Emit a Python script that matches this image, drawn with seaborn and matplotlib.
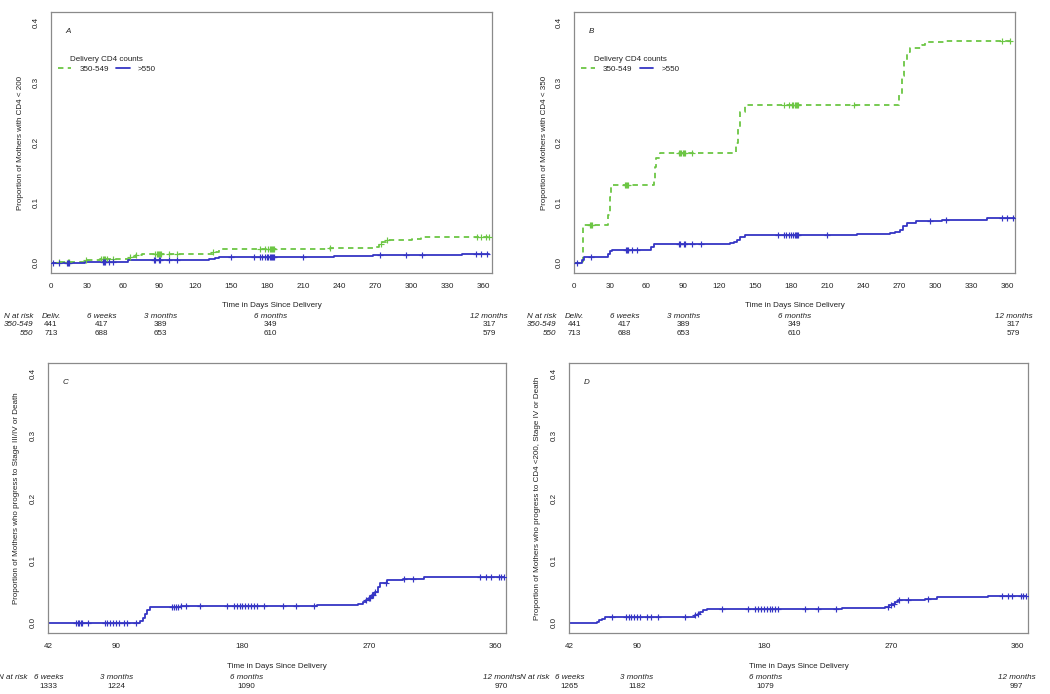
import numpy as np
import pandas as pd
import matplotlib
matplotlib.use("Agg")
import matplotlib.pyplot as plt
from matplotlib.lines import Line2D
import matplotlib.transforms as mtransforms
import seaborn as sns

# ---------------- data ----------------
# Panel A: CD4 < 200
a_mid_t = [0, 7, 29, 41, 66, 71, 76, 135, 140, 232, 270, 273, 276, 279, 301, 308, 365]
a_mid_v = [0, 0.002, 0.0044, 0.0066, 0.0104, 0.0126, 0.0148, 0.0185, 0.0225, 0.0247, 0.027, 0.031, 0.035, 0.0374, 0.040, 0.043, 0.043]
a_hi_t = [0, 28, 64, 132, 137, 140, 236, 268, 274, 342, 365]
a_hi_v = [0, 0.0016, 0.0044, 0.0065, 0.008, 0.0093, 0.011, 0.013, 0.0135, 0.0154, 0.0154]
a_mid_cens = [7, 14, 15, 29, 42, 43, 44, 45, 47, 52, 66, 71, 87, 88, 89, 90, 91, 92, 98, 105, 135,
              174, 178, 181, 182, 183, 184, 185, 186, 232, 275, 280, 355, 358, 362, 365]
a_hi_cens = [2, 7, 13, 14, 15, 43, 44, 45, 48, 52, 86, 87, 90, 91, 98, 105, 150, 169, 174, 176,
             178, 180, 181, 182, 183, 184, 185, 186, 210, 274, 296, 309, 354, 358, 363]

# Panel B: CD4 < 350
b_mid_t = [0, 7.5, 28, 29.5, 30.5, 66, 67, 68, 71, 134, 136, 138, 142, 270, 272, 274, 276, 279, 289, 291, 308, 366]
b_mid_v = [0, 0.063, 0.08, 0.11, 0.129, 0.14, 0.16, 0.175, 0.183, 0.2, 0.225, 0.25, 0.262, 0.28, 0.31, 0.335,
           0.35, 0.357, 0.362, 0.366, 0.369, 0.369]
b_hi_t = [0, 6, 8, 28, 29.6, 31.6, 64, 66.5, 129, 133, 135, 137.6, 141.8, 234.5, 262, 266, 270.6, 273, 276,
          284, 305, 342.6, 366]
b_hi_v = [0, 0.005, 0.01, 0.015, 0.02, 0.022, 0.027, 0.032, 0.033, 0.035, 0.039, 0.043, 0.046, 0.048, 0.05,
          0.052, 0.055, 0.062, 0.067, 0.07, 0.072, 0.075, 0.075]
b_mid_cens = [13, 14, 15, 42, 43, 44, 45, 87, 88, 89, 90, 91, 92, 98, 174, 178, 181, 182, 183, 184, 185,
              186, 232, 355, 362]
b_hi_cens = [2, 14, 43, 44, 45, 48, 52, 87, 88, 91, 92, 98, 105, 169, 174, 176, 178, 180, 182, 183, 184,
             185, 186, 210, 295, 309, 355, 359, 364]

# Panel C: Stage III/IV or death
c_t = [42, 107, 109.5, 111, 112, 114, 124, 136, 233, 259, 262, 266, 268, 270, 272, 274, 276, 278, 283, 294, 309, 366]
c_v = [0, 0.003, 0.008, 0.015, 0.02, 0.025, 0.0255, 0.027, 0.028, 0.029, 0.031, 0.033, 0.036, 0.04, 0.045,
       0.05, 0.057, 0.064, 0.069, 0.071, 0.073, 0.073]
c_cens = [62, 63, 64, 65, 66, 70, 82, 84, 86, 88, 90, 92, 96, 98, 104, 130, 131, 133, 134, 136, 140, 150,
          169, 174, 176, 178, 180, 182, 184, 186, 188, 190, 195, 209, 218, 231, 268, 270, 271, 272, 273,
          274, 282, 295, 301, 349, 353, 357, 362, 364, 366]

# Panel D: CD4 <200, Stage IV or death
d_t = [42, 61.5, 63, 65, 67.3, 129, 131, 133, 135, 137, 139.4, 230, 235, 266, 269, 271, 273, 275, 278, 294,
       302.5, 307, 339, 366]
d_v = [0, 0.002, 0.005, 0.007, 0.009, 0.01, 0.012, 0.015, 0.018, 0.02, 0.022, 0.023, 0.024, 0.026, 0.028,
       0.031, 0.034, 0.036, 0.037, 0.039, 0.041, 0.042, 0.043, 0.043]
d_cens = [72, 82, 84, 86, 88, 90, 92, 97, 100, 105, 124, 131, 133, 150, 169, 174, 176, 178, 180, 182, 184,
          186, 188, 190, 209, 218, 231, 268, 270, 272, 276, 282, 296, 349, 353, 356, 362, 364, 366]

# At-risk tables
ab_risk_labels = ["Deliv.", "6 weeks", "3 months", "6 months", "12 months"]
ab_risk_days = [0, 42, 91, 183, 365]
a_risk_mid = [441, 417, 389, 349, 317]
a_risk_hi = [713, 688, 653, 610, 579]
c_risk_labels = ["6 weeks", "3 months", "6 months", "12 months"]
c_risk_days = [42, 90.6, 183, 364]
c_risk_n = [1333, 1224, 1090, 970]
d_risk_days = [42, 90, 181, 359]
d_risk_n = [1265, 1182, 1079, 997]

groups = ["350-549", ">550"]
GREEN = "#6cc644"
BLUE = "#3535c4"
GREY = "#8a8a8a"
TXT = "#222222"

# ---------------- style ----------------
sns.set_style("white")
plt.rcParams["font.family"] = ["Liberation Sans", "DejaVu Sans"]
FS = 5.8
LW = 1.3

fig = plt.figure(figsize=(10.5, 6.94), dpi=100)
W, H = 1050, 694


def mkax(l, t, r, b):
    return fig.add_axes([l / W, 1 - b / H, (r - l) / W, (b - t) / H])


axA = mkax(51, 12, 492, 273)
axB = mkax(574.3, 12, 1015, 273)
axC = mkax(48.3, 362.7, 505.7, 633.3)
axD = mkax(569.3, 362.7, 1027.7, 633.3)


def step_val(t, v, c):
    t = np.asarray(t); v = np.asarray(v)
    idx = np.searchsorted(t, np.asarray(c), side="right") - 1
    return v[np.clip(idx, 0, len(v) - 1)]


def draw_curve(ax, t, v, cens, group, color, dashed):
    df = pd.DataFrame({"t": t, "v": v, "g": group})
    ls = (0, (3.0, 2.4)) if dashed else "-"
    sns.lineplot(data=df, x="t", y="v", ax=ax, color=color, estimator=None, sort=False,
                 drawstyle="steps-post", linewidth=LW, linestyle=ls, legend=False)
    cdf = pd.DataFrame({"t": cens, "v": step_val(t, v, cens)})
    sns.scatterplot(data=cdf, x="t", y="v", ax=ax, color=color, marker="+", s=20,
                    linewidth=0.85, legend=False, zorder=3)


def style_ax(ax, xlim, xticks, ylabel, letter, lab_x):
    ax.set_xlim(*xlim)
    ax.set_ylim(-0.0166, 0.4166)
    ax.set_xticks(xticks)
    ax.set_yticks([0.0, 0.1, 0.2, 0.3, 0.4])
    ax.set_yticklabels(["0.0", "0.1", "0.2", "0.3", "0.4"])
    ax.tick_params(axis="both", direction="out", length=3.6, width=0.6, color=GREY,
                   labelsize=FS, labelcolor=TXT, pad=3.4)
    ax.tick_params(axis="y", pad=4.6)
    for lab in ax.get_yticklabels():
        lab.set_rotation(90)
        lab.set_va("center")
    for s in ax.spines.values():
        s.set_color(GREY)
        s.set_linewidth(0.9)
        s.set_visible(True)
    ax.set_xlabel("Time in Days Since Delivery", fontsize=FS, color=TXT)
    ax.set_ylabel(ylabel, fontsize=FS, color=TXT)
    ax.xaxis.set_label_coords(0.5, -0.111)
    ax.yaxis.set_label_coords(lab_x, 0.5)
    ax.text(0.038, 0.927, letter, transform=ax.transAxes, fontsize=FS, style="italic",
            color=TXT, ha="center", va="center")


def legend(ax):
    h = [Line2D([], [], color=GREEN, lw=LW, linestyle=(0, (3.0, 2.4))),
         Line2D([], [], color=BLUE, lw=LW)]
    lg = ax.legend(h, groups, title="Delivery CD4 counts", ncol=2, frameon=False,
                   loc="upper left", bbox_to_anchor=(0.008, 0.842), borderaxespad=0.2,
                   fontsize=FS, title_fontsize=FS, handlelength=1.7, handletextpad=1.0,
                   columnspacing=0.9, borderpad=0.2, labelspacing=0.2)
    for t in lg.get_texts():
        t.set_color(TXT)
    lg.get_title().set_color(TXT)


def risk_ab(ax, mid, hi, lab_x):
    tr = mtransforms.blended_transform_factory(ax.transData, ax.transAxes)
    ys = [-0.1648, -0.199, -0.2326]
    kw = dict(transform=tr, fontsize=FS, color=TXT, va="center", clip_on=False)
    ax.text(lab_x, ys[0], "N at risk", ha="right", style="italic", **kw)
    ax.text(lab_x, ys[1], "350-549", ha="right", style="italic", **kw)
    ax.text(lab_x, ys[2], "550", ha="right", style="italic", **kw)
    for d, lab, n1, n2 in zip(ab_risk_days, ab_risk_labels, mid, hi):
        ax.text(d, ys[0], lab, ha="center", style="italic", **kw)
        ax.text(d, ys[1], str(n1), ha="center", **kw)
        ax.text(d, ys[2], str(n2), ha="center", **kw)


def risk_cd(ax, days, ns, lab_x):
    tr = mtransforms.blended_transform_factory(ax.transData, ax.transAxes)
    ys = [-0.165, -0.197]
    kw = dict(transform=tr, fontsize=FS, color=TXT, va="center", clip_on=False)
    ax.text(lab_x, ys[0], "N at risk", ha="right", style="italic", **kw)
    for d, lab, n in zip(days, c_risk_labels, ns):
        ax.text(d, ys[0], lab, ha="center", style="italic", **kw)
        ax.text(d, ys[1], str(n), ha="center", **kw)


# Panel A
draw_curve(axA, a_mid_t, a_mid_v, a_mid_cens, groups[0], GREEN, True)
draw_curve(axA, a_hi_t, a_hi_v, a_hi_cens, groups[1], BLUE, False)
style_ax(axA, (0, 367.3), range(0, 361, 30), "Proportion of Mothers with CD4 < 200", "A", -0.061)
legend(axA)
risk_ab(axA, a_risk_mid, a_risk_hi, -15)

# Panel B
draw_curve(axB, b_mid_t, b_mid_v, b_mid_cens, groups[0], GREEN, True)
draw_curve(axB, b_hi_t, b_hi_v, b_hi_cens, groups[1], BLUE, False)
style_ax(axB, (0, 366), range(0, 361, 30), "Proportion of Mothers with CD4 < 350", "B", -0.06)
legend(axB)
risk_ab(axB, a_risk_mid, a_risk_hi, -15)

# Panel C
draw_curve(axC, c_t, c_v, c_cens, "all", BLUE, False)
style_ax(axC, (42, 367.1), [42, 90, 180, 270, 360],
         "Proportion of Mothers who progress to Stage III/IV or Death", "C", -0.062)
risk_cd(axC, c_risk_days, c_risk_n, 27.4)

# Panel D
draw_curve(axD, d_t, d_v, d_cens, "all", BLUE, False)
style_ax(axD, (42, 367.0), [42, 90, 180, 270, 360],
         "Proportion of Mothers who progress to CD4 <200, Stage IV or Death", "D", -0.062)
risk_cd(axD, d_risk_days, d_risk_n, 28)

for ax in (axA, axB, axC, axD):
    ax.set_facecolor("white")

fig.savefig("out.png", dpi=100, facecolor="white")
